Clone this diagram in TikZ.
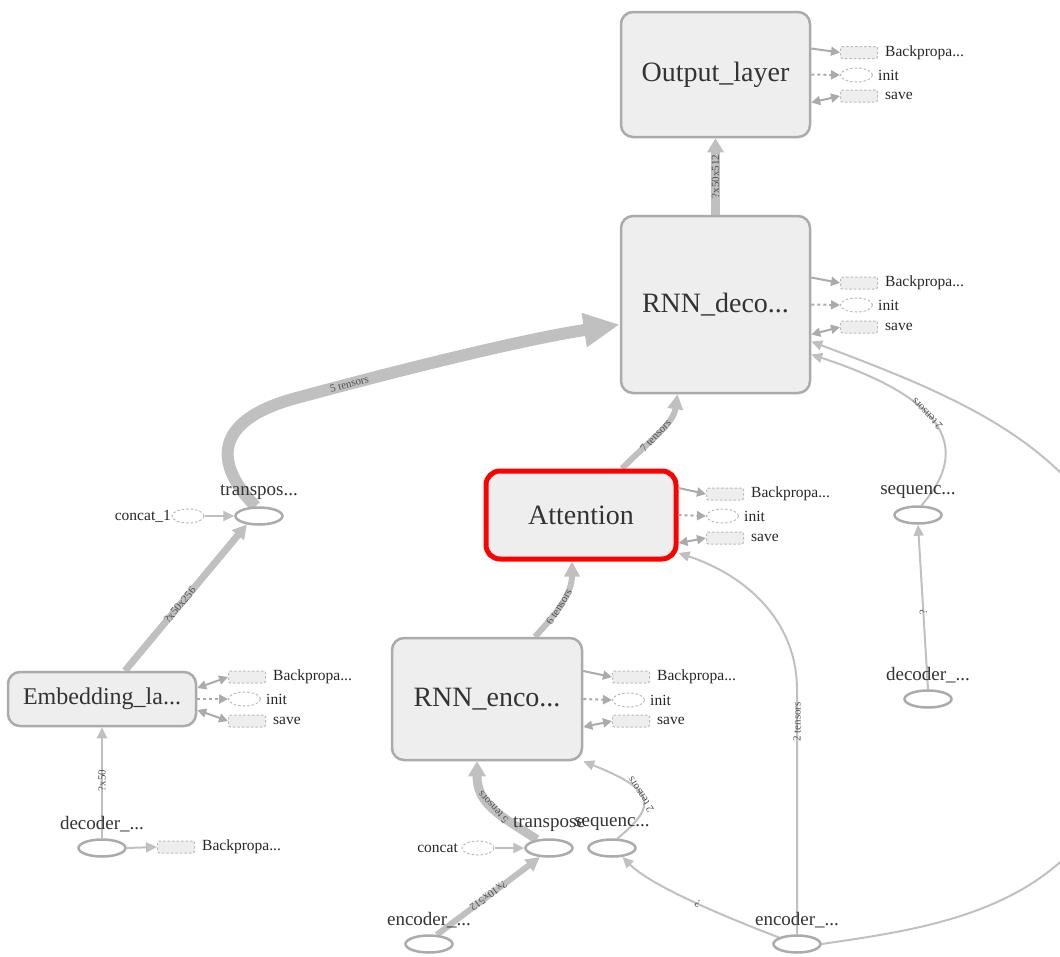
\documentclass[tikz,border=0pt]{standalone}
\usepackage{fontspec}
\setmainfont{Liberation Serif}
\usetikzlibrary{arrows.meta,shapes.geometric,backgrounds}
\definecolor{edgegray}{HTML}{C0C0C0}
\definecolor{sidegray}{HTML}{ABABAB}
\definecolor{boxfill}{HTML}{EEEEEE}
\definecolor{boxdraw}{HTML}{ABABAB}
\definecolor{auxdraw}{HTML}{BBBBBB}
\definecolor{txt}{HTML}{333333}
\definecolor{lbltxt}{HTML}{505050}
\definecolor{attnred}{HTML}{FF0000}
\newcommand{\sidegrp}[9]{%
  \node[auxbox,anchor=west] (#1bp) at (#3,#4) {};
  \node[auxtxt] (#1bpt) at (#3+45,#4) {Backpropa...};
  \node[auxell,anchor=west] (#1in) at (#3,#5) {};
  \node[auxtxt] (#1int) at (#3+38,#5) {init};
  \node[auxbox,anchor=west] (#1sv) at (#3,#6) {};
  \node[auxtxt] (#1svt) at (#3+45,#6) {save};
  \draw[auxflow,#9] ([yshift=#7]#2.east) -- (#1bp.west);
  \draw[auxflow,dash pattern=on 3pt off 3pt] (#2.east) -- (#1in.west);
  \draw[auxflow,twoway] ([yshift=#8]#2.east) -- (#1sv.west);
}
\begin{document}
\begin{tikzpicture}[x=1pt,y=-1pt,
  mbox/.style={draw=boxdraw,line width=2.5pt,fill=boxfill,rounded corners=12pt,inner sep=0pt,text=txt},
  opnode/.style={ellipse,draw=boxdraw,line width=2.5pt,fill=white,minimum width=47pt,minimum height=17pt,inner sep=0pt},
  auxbox/.style={draw=auxdraw,dash pattern=on 2.5pt off 2pt,line width=1pt,fill=boxfill,rounded corners=2pt,minimum width=37pt,minimum height=12pt,inner sep=0pt},
  auxell/.style={ellipse,draw=auxdraw,dash pattern=on 2.5pt off 2pt,line width=1pt,fill=white,minimum width=32pt,minimum height=14pt,inner sep=0pt},
  auxtxt/.style={font=\fontsize{15.5}{16}\selectfont,text=black!85,anchor=west,inner sep=0pt},
  optxt/.style={font=\fontsize{19}{20}\selectfont,text=txt,inner sep=0pt},
  flow/.style={draw=edgegray,line width=2pt,-{Triangle[length=11pt,width=10pt]}},
  auxflow/.style={draw=sidegray,line width=2pt,oneway},
  oneway/.style={-{Triangle[length=9pt,width=9pt]}},
  twoway/.style={{Triangle[length=9pt,width=9pt]}-{Triangle[length=9pt,width=9pt]}},
  elab/.style={sloped,allow upside down,font=\fontsize{11}{11}\selectfont,text=lbltxt,inner sep=0.5pt},
]
\useasboundingbox (0,0) rectangle (1060,956);

% main boxes
\node[mbox,minimum width=189pt,minimum height=125pt,font=\fontsize{28}{30}\selectfont] (out) at (715.5,74.5) {Output\_layer};
\node[mbox,minimum width=189pt,minimum height=177pt,font=\fontsize{28}{30}\selectfont] (rd) at (715.5,304.5) {RNN\_deco...};
\node[mbox,draw=attnred,line width=5pt,rounded corners=14pt,minimum width=190pt,minimum height=88pt,font=\fontsize{28}{30}\selectfont] (att) at (581,515) {Attention};
\node[mbox,minimum width=190pt,minimum height=122pt,font=\fontsize{28}{30}\selectfont] (re) at (487,699) {RNN\_enco...};
\node[mbox,minimum width=188pt,minimum height=54pt,font=\fontsize{24}{26}\selectfont] (emb) at (102,699) {Embedding\_la...};

% op nodes
\node[opnode] (tr) at (259,516) {};
\node[auxell] (c1) at (188,516) {};
\node[opnode] (dl) at (102,848) {};
\node[auxbox] (dlbp) at (176,847) {};
\node[opnode] (tb) at (549,848) {};
\node[auxell] (cc) at (478,848) {};
\node[opnode] (sb) at (612,848) {};
\node[opnode] (el) at (429,944) {};
\node[opnode] (er) at (797,944) {};
\node[opnode] (sr) at (918,515) {};
\node[opnode] (dr) at (928,699) {};

% side groups
\sidegrp{o}{out}{840}{52.5}{75}{96}{26pt}{-28pt}{oneway}
\sidegrp{d}{rd}{840}{283}{305}{327}{27pt}{-30pt}{oneway}
\sidegrp{a}{att}{706}{494}{516}{538}{27pt}{-28pt}{oneway}
\sidegrp{e}{emb}{228}{677}{699}{721}{11pt}{-11pt}{twoway}
\sidegrp{r}{re}{612}{677}{700}{721}{28pt}{-28pt}{oneway}

% edges
\begin{scope}[on background layer]
\draw[flow,line width=9pt,-{Triangle[length=14pt,width=16pt]}] (rd.north) -- node[elab,pos=0.5] {?x50x512} (out.south);
\draw[flow,line width=12pt,-{Triangle[length=36pt,width=32pt]}] (tr.110) .. controls (215,465) and (210,420) .. (300,397) .. controls (400,370) and (520,340) .. node[elab,pos=0.16] {5 tensors} ([yshift=-20pt]rd.west);
\draw[flow,line width=6pt,-{Triangle[length=15pt,width=15pt]}] ([xshift=41pt]att.north) .. controls (650,440) and (673,425) .. node[elab,pos=0.45] {7 tensors} ([xshift=-38pt]rd.south);
\draw[flow,line width=6pt,-{Triangle[length=15pt,width=15pt]}] ([xshift=48pt]re.north) .. controls (555,615) and (572,595) .. node[elab,pos=0.45] {6 tensors} ([xshift=-9pt]att.south);
\draw[flow,line width=7pt,-{Triangle[length=14pt,width=15pt]}] ([xshift=23pt]emb.north) -- node[elab,pos=0.45] {?x50x256} (tr.215);
\draw[flow] (dl.north) -- node[elab,pos=0.52] {?x50} (emb.south);
\draw[flow] (dl.east) -- (dlbp.west);
\draw[flow] (c1.east) -- (tr.west);
\draw[flow] (cc.east) -- (tb.west);
\draw[flow,line width=9pt,-{Triangle[length=15pt,width=17pt]}] (tb.145) .. controls (500,815) and (477,805) .. node[elab,pos=0.5] {5 tensors} ([xshift=-10pt]re.south);
\draw[flow,line width=6pt,-{Triangle[length=14pt,width=14pt]}] (el.50) -- node[elab,pos=0.5,rotate=180] {?x10x512} (tb.225);
\draw[flow] (sb.60) .. controls (658,805) and (655,790) .. node[elab,pos=0.55] {2 tensors} (re.south east);
\draw[flow] (er.160) .. controls (720,915) and (650,885) .. node[elab,pos=0.45] {?} (sb.320);
\draw[flow] (er.north) -- node[elab,pos=0.87] {2 tensors} (797,690) .. controls (797,620) and (745,575) .. ([yshift=-38pt]att.east);
\draw[flow] (sr.70) .. controls (970,450) and (950,400) .. node[elab,pos=0.58] {2 tensors} ([yshift=-50pt]rd.east);
\draw[flow] (dr.north) -- node[elab,pos=0.47] {?} (sr.south);
\begin{scope}
\clip (0,0) rectangle (1060,956);
\draw[flow] (er.east) .. controls (950,925) and (1110,905) .. (1140,700) .. controls (1160,600) and (1140,570) .. (1100,520) .. controls (1040,430) and (940,390) .. ([yshift=-37pt]rd.east);
\end{scope}
\end{scope}

% op labels
\node[optxt] (trlab) at (259,492) {transpos...};
\node[auxtxt,anchor=east] (c1lab) at (171,516) {concat\_1};
\node[optxt] (dllab) at (102,824) {decoder\_...};
\node[auxtxt] (dlbplab) at (202,847) {Backpropa...};
\node[optxt] (tblab) at (549,824) {transpose};
\node[auxtxt,anchor=east] (cclab) at (458,848) {concat};
\node[optxt] (sblab) at (612,824) {sequenc...};
\node[optxt] (ellab) at (429,920) {encoder\_...};
\node[optxt] (erlab) at (797,920) {encoder\_...};
\node[optxt] (srlab) at (918,492) {sequenc...};
\node[optxt] (drlab) at (928,675) {decoder\_...};
\end{tikzpicture}
\end{document}
